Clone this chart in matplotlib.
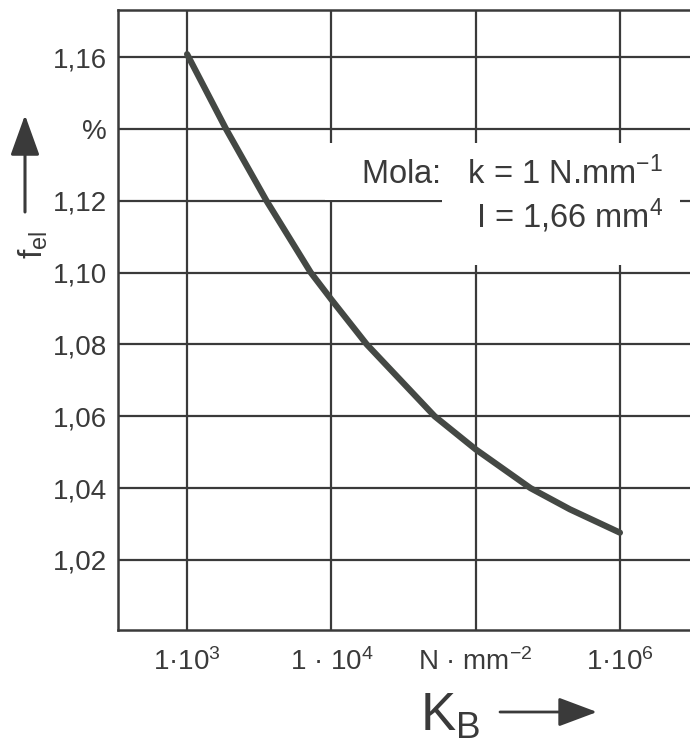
import matplotlib.pyplot as plt
from matplotlib.patches import Rectangle
from matplotlib import font_manager

narrow = 'Liberation Sans Narrow'
names = {f.name for f in font_manager.fontManager.ttflist}
if narrow not in names:
    narrow = 'Liberation Sans'

plt.rcParams['font.family'] = [narrow, 'DejaVu Sans']
plt.rcParams['mathtext.fontset'] = 'custom'
plt.rcParams['mathtext.rm'] = narrow
plt.rcParams['mathtext.default'] = 'regular'

# values
kb = [1e3, 1.86e3, 3.55e3, 7.2e3, 1e4, 1.76e4, 5.2e4, 1e5, 2.4e5, 4.5e5, 1e6]
f_el = [1.1608, 1.140, 1.120, 1.100, 1.0925, 1.080, 1.060, 1.0508, 1.040, 1.0341, 1.0276]

x_ticks = [1e3, 1e4, 1e5, 1e6]
x_labels = ['1·10$^3$', '1 · 10$^4$', 'N · mm$^{-2}$', '1·10$^6$']
y_ticks = [1.02, 1.04, 1.06, 1.08, 1.10, 1.12, 1.14, 1.16]
y_labels = ['1,02', '1,04', '1,06', '1,08', '1,10', '1,12', '%', '1,16']

ink = '#3a3a3a'
W, H = 690, 748

fig = plt.figure(figsize=(W / 100, H / 100), dpi=100)
ax = fig.add_axes([118 / W, 1 - 630 / H, 1 - 118 / W, (630 - 10) / H])

ax.set_xscale('log')
ax.set_xlim(332, 3.06e6)
ax.set_ylim(1.0005, 1.1731)

ax.set_xticks(x_ticks)
ax.set_xticklabels(x_labels)
ax.xaxis.set_minor_locator(plt.NullLocator())
ax.set_yticks(y_ticks)
ax.set_yticklabels(y_labels)
ax.tick_params(length=0, labelsize=20, colors=ink)
ax.tick_params(axis='x', pad=13)
ax.tick_params(axis='y', pad=8)

ax.grid(True, color=ink, linewidth=1.6)
for side in ['left', 'bottom', 'top']:
    ax.spines[side].set_color(ink)
    ax.spines[side].set_linewidth(1.8)
ax.spines['right'].set_visible(False)

# white area behind the spring annotation
ax.add_patch(Rectangle((325 / W, 1 - 200 / H), 355 / W, 57 / H, transform=fig.transFigure,
                       facecolor='white', edgecolor='none', zorder=2))
ax.add_patch(Rectangle((442 / W, 1 - 265 / H), 238 / W, 66 / H, transform=fig.transFigure,
                       facecolor='white', edgecolor='none', zorder=2))

ax.plot(kb, f_el, color='#444844', linewidth=4.5, solid_capstyle='round',
        solid_joinstyle='round', zorder=3)

fig.text(663 / W, 1 - 184 / H, r'Mola:   k = 1 N.mm$^{-1}$', ha='right', va='baseline',
         fontsize=23.5, family='Liberation Sans', color=ink, zorder=4)
fig.text(663 / W, 1 - 228 / H, r'I = 1,66 mm$^{4}$', ha='right', va='baseline',
         fontsize=23.5, family='Liberation Sans', color=ink, zorder=4)

# axis names with arrows
fig.text(420 / W, 1 - 731 / H, '$K_B$', ha='left', va='baseline', fontsize=38, color=ink)
fig.add_artist(plt.Annotation('', xy=(597 / W, 1 - 712 / H), xytext=(500 / W, 1 - 712 / H),
                              xycoords='figure fraction', textcoords='figure fraction',
                              arrowprops=dict(arrowstyle='-|>,head_length=2.4,head_width=0.9',
                                              color=ink, lw=2, shrinkA=0, shrinkB=0)))
fig.text(33 / W, 1 - 245 / H, '$f_{el}$', ha='center', va='center', rotation=90,
         fontsize=24, color=ink)
fig.add_artist(plt.Annotation('', xy=(25 / W, 1 - 115 / H), xytext=(25 / W, 1 - 212 / H),
                              xycoords='figure fraction', textcoords='figure fraction',
                              arrowprops=dict(arrowstyle='-|>,head_length=2.5,head_width=0.9',
                                              color=ink, lw=2.2, shrinkA=0, shrinkB=0)))

fig.savefig('out.png', dpi=100)
